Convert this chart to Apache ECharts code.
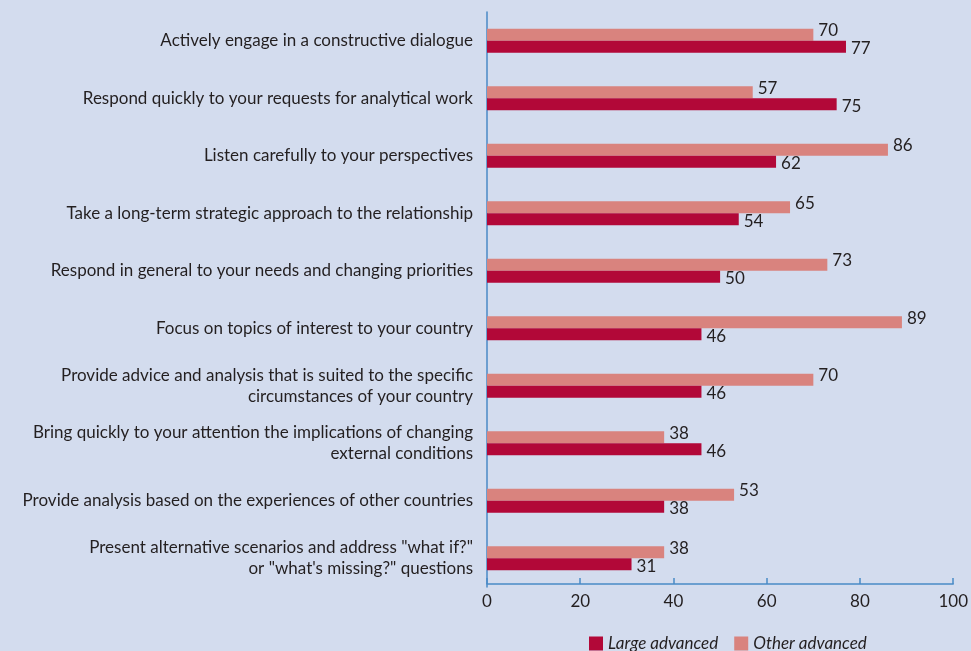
<!DOCTYPE html>
<html>
<head>
<meta charset="utf-8">
<script src="https://cdn.jsdelivr.net/npm/echarts@6/dist/echarts.min.js"></script>
<style>
html,body{margin:0;padding:0;background:#d3dcee;}
#chart{width:971px;height:651px;}
</style>
</head>
<body>
<div id="chart"></div>
<script>
// Survey statements, top to bottom
const categories = [
  'Actively engage in a constructive dialogue',
  'Respond quickly to your requests for analytical work',
  'Listen carefully to your perspectives',
  'Take a long-term strategic approach to the relationship',
  'Respond in general to your needs and changing priorities',
  'Focus on topics of interest to your country',
  'Provide advice and analysis that is suited to the specific\ncircumstances of your country',
  'Bring quickly to your attention the implications of changing\nexternal conditions',
  'Provide analysis based on the experiences of other countries',
  'Present alternative scenarios and address "what if?"\nor "what\'s missing?" questions'
];
const otherAdvanced = [70, 57, 86, 65, 73, 89, 70, 38, 53, 38];
const largeAdvanced = [77, 75, 62, 54, 50, 46, 46, 46, 38, 31];
const xTicks = [0, 20, 40, 60, 80, 100];

const FONT = 'Lato, "Open Sans", sans-serif';
const TEXT = '#231f20';
const SIZE = 17;
const AXIS_BLUE = '#4a8ac6';

const chart = echarts.init(document.getElementById('chart'));
chart.setOption({
  backgroundColor: '#d3dcee',
  animation: false,
  grid: { left: 487, right: 14, top: 12, bottom: 64, containLabel: false },
  legend: {
    left: 584, top: 630,
    itemWidth: 14, itemHeight: 14, itemGap: 16,
    icon: 'rect',
    data: ['Large advanced', 'Other advanced'],
    textStyle: { fontFamily: FONT, fontStyle: 'italic', fontSize: SIZE, color: TEXT }
  },
  xAxis: {
    type: 'value', min: xTicks[0], max: xTicks[xTicks.length - 1], interval: 20,
    offset: -3,
    axisLine: { show: true, lineStyle: { color: AXIS_BLUE, width: 1.5 } },
    axisTick: { show: true, inside: true, length: 6, lineStyle: { color: AXIS_BLUE, width: 1.5 } },
    splitLine: { show: false },
    axisLabel: { fontFamily: FONT, fontSize: SIZE, color: TEXT, margin: 9 }
  },
  yAxis: {
    type: 'category', data: categories, inverse: true,
    axisLine: { show: true, lineStyle: { color: AXIS_BLUE, width: 1.5 } },
    axisTick: { show: false },
    axisLabel: { fontFamily: FONT, fontSize: SIZE, color: TEXT, margin: 14, lineHeight: 21, align: 'right' }
  },
  series: [
    {
      name: 'Other advanced', type: 'bar', data: otherAdvanced,
      barWidth: 12, barGap: '0%',
      itemStyle: { color: '#d9837e' },
      label: { show: true, position: 'right', distance: 5, offset: [0, -4],
               fontFamily: FONT, fontSize: SIZE, color: TEXT }
    },
    {
      name: 'Large advanced', type: 'bar', data: largeAdvanced,
      barWidth: 12, barGap: '0%',
      itemStyle: { color: '#b20838' },
      label: { show: true, position: 'right', distance: 5, offset: [0, 2],
               fontFamily: FONT, fontSize: SIZE, color: TEXT }
    }
  ]
});
</script>
</body>
</html>
